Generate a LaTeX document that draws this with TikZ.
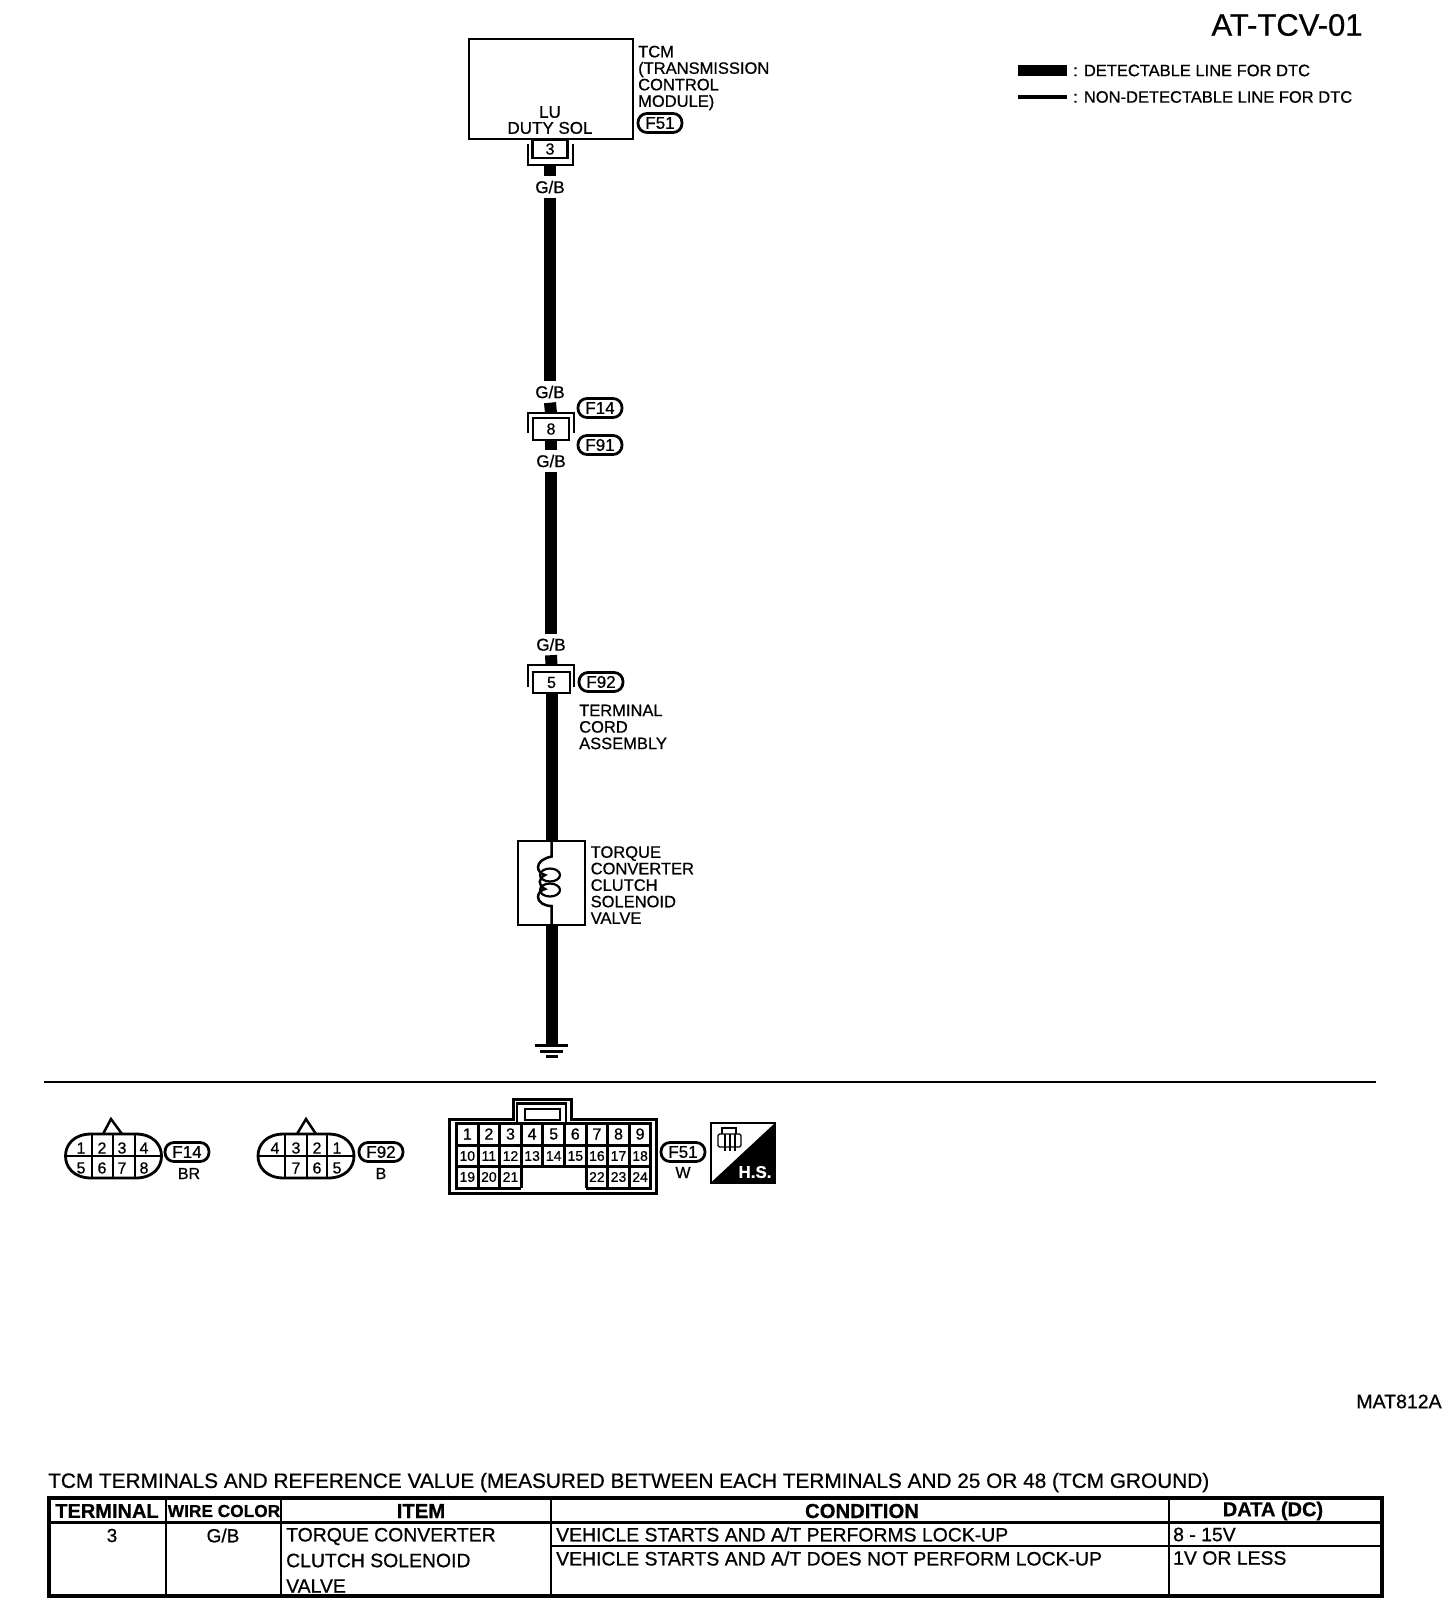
\documentclass[tikz,border=0pt]{standalone}
\usepackage{fontspec}
\setmainfont{Liberation Sans}[FakeBold=0.7]
\usetikzlibrary{calc}
\newcommand{\fnt}[1]{\fontsize{#1}{#1}\selectfont}

\begin{document}
\begin{tikzpicture}[x=1pt,y=-1pt,line cap=butt] %% pixel units
	\tikzstyle{wire}=[line width=12pt];
	\tikzstyle{outline}=[draw,line width=2.8pt,inner sep=0pt];
	\tikzstyle{pinbox}=[outline,minimum width=35pt,minimum height=20pt,font=\fnt{16}];
	\tikzstyle{tag}=[outline,rounded corners=9pt,minimum width=44pt,minimum height=19pt,font=\fnt{17}];
	\tikzstyle{wirelabel}=[inner sep=0pt,minimum height=21pt,font=\fnt{17}];
	\tikzstyle{lbl}=[inner sep=0pt,anchor=west,align=left,font=\fontsize{16.5}{16.5}\selectfont];
	\tikzstyle{cell}=[inner sep=0pt,font=\fnt{16}];
	\tikzstyle{smallcell}=[inner sep=0pt,font=\fnt{14}];
	\tikzstyle{head}=[inner sep=0pt,font=\bfseries\fnt{20.3}];
	\tikzstyle{body}=[inner sep=0pt,anchor=west,font=\fnt{19.4}];
	\tikzset{plugshell/.pic={
		\draw[line width=2.8pt] (-22,-22) -- (22,-22) .. controls (40,-22) and (48,-11) .. (48,0)
			.. controls (48,11) and (40,22) .. (22,22) -- (-22,22)
			.. controls (-40,22) and (-48,11) .. (-48,0) .. controls (-48,-11) and (-40,-22) .. (-22,-22) -- cycle;
		\draw[line width=2.8pt] (-48,0) -- (48,0);
	}};
	\useasboundingbox (0,0) rectangle (1456,1612);
	%% title and legend
	\node[inner sep=0pt,font=\fnt{31}] (sheet) at (1287,25) {AT-TCV-01};
	\coordinate (legA) at (1018,70.5);
	\coordinate (legB) at (1067,70.5);
	\coordinate (legC) at (1018,97);
	\coordinate (legD) at (1067,97);
	\draw[line width=11pt] (legA) -- (legB);
	\draw[line width=4.5pt] (legC) -- (legD);
	\node[inner sep=0pt,anchor=west,font=\fnt{16.5}] (legtxtA) at (1073,70.5) {: DETECTABLE LINE FOR DTC};
	\node[inner sep=0pt,anchor=west,font=\fnt{16.5}] (legtxtB) at (1073,97) {: NON-DETECTABLE LINE FOR DTC};
	%% TCM
	\node[outline,minimum width=164pt,minimum height=100pt] (tcm) at (551,89) {};
	\node[inner sep=0pt,align=center,font=\fontsize{17}{16}\selectfont] (lu) at (550,120) {LU\\DUTY SOL};
	\node[lbl] (tcmtxt) at (638,78) {TCM\\(TRANSMISSION\\CONTROL\\MODULE)};
	\node[tag] (fA) at (660,123) {F51};
	\node[pinbox,minimum height=18pt] (pinA) at (550,149) {3};
	\draw[line width=2.8pt] (528,144) -- (528,165) -- (573,165) -- (573,144);
	\coordinate (uA) at (550,165);
	\node[wirelabel] (gbA) at (550,187) {G/B};
	\draw[wire] (uA) -- (gbA.north);
	\node[wirelabel] (gbB) at (550,392) {G/B};
	\draw[wire] (gbA.south) -- (gbB.north);
	%% joint connector
	\node[pinbox,minimum width=36pt,minimum height=22pt] (pinB) at (551,429) {8};
	\coordinate (uB) at (551,413);
	\draw[wire] (gbB.south) -- (uB);
	\draw[line width=2.8pt] (528,433) -- (528,413) -- (574,413) -- (574,433);
	\node[tag] (fB) at (600,408) {F14};
	\node[tag] (fC) at (600,445) {F91};
	\node[wirelabel] (gbC) at (551,461) {G/B};
	\draw[wire] (pinB.south) -- (gbC.north);
	\node[wirelabel] (gbD) at (551,644.5) {G/B};
	\draw[wire] (gbC.south) -- (gbD.north);
	%% terminal cord
	\node[pinbox,minimum width=37pt,minimum height=21pt] (pinC) at (551.5,682.5) {5};
	\coordinate (uC) at (551.5,665);
	\draw[wire] (gbD.south) -- (uC);
	\draw[line width=2.8pt] (528,687) -- (528,665) -- (574,665) -- (574,687);
	\node[tag] (fD) at (601,682) {F92};
	\node[lbl] (cordtxt) at (579,727) {TERMINAL\\CORD\\ASSEMBLY};
	%% solenoid
	\node[outline,minimum width=67pt,minimum height=84pt] (sol) at (551.5,883) {};
	\draw[wire] (pinC.south) -- (sol.north);
	\node[lbl] (soltxt) at (590.5,885) {TORQUE\\CONVERTER\\CLUTCH\\SOLENOID\\VALVE};
	\draw[line width=2.5pt] (sol.north) -- ++(0,17) .. controls (544,858) and (538,862) .. (538,867)
		.. controls (538,871) and (541,874) .. (545,875) .. controls (538,878) and (538,886) .. (545,889)
		.. controls (541,890) and (538,893) .. (538,897) .. controls (538,902) and (544,906) .. (551.5,906) -- (sol.south);
	\draw[line width=2.2pt] (550,875) ellipse [x radius=10,y radius=6.5];
	\draw[line width=2.2pt] (550,890) ellipse [x radius=10,y radius=6.5];
	%% ground
	\coordinate (gnd) at (551.5,1044);
	\draw[wire] (sol.south) -- (gnd);
	\draw[line width=3pt] (535,1045) -- (568,1045);
	\draw[line width=3pt] (540,1051) -- (563,1051);
	\draw[line width=3pt] (546,1056.5) -- (558,1056.5);
	\draw[line width=2.5pt] (44,1082) -- (1376,1082);
	%% connector F14
	\pic at (113.5,1156) {plugshell};
	\draw[line width=2.5pt] (103,1134) -- (111,1119) -- (122,1134);
	\foreach \x in {92,113,135} \draw[line width=2.8pt] (\x,1134) -- (\x,1178);
	\foreach \n/\x/\y in {1/81/1148,2/102/1148,3/122/1148,4/144/1148,5/81/1168,6/102/1168,7/122/1168,8/144/1168}
		\node[cell] (e\n) at (\x,\y) {\n};
	\node[tag] (fE) at (187,1152) {F14};
	\node[cell] (colE) at (189,1173.5) {BR};
	%% connector F92
	\pic at (306,1156) {plugshell};
	\draw[line width=2.5pt] (297,1134) -- (306,1119) -- (316,1134);
	\foreach \x in {285,307,327} \draw[line width=2.8pt] (\x,1134) -- (\x,1178);
	\foreach \n/\x/\y in {4/275/1148,3/296/1148,2/317/1148,1/337/1148,7/296/1168,6/317/1168,5/337/1168}
		\node[cell] (g\n) at (\x,\y) {\n};
	\node[tag] (fF) at (381,1152) {F92};
	\node[cell] (colF) at (381,1173.5) {B};
	%% connector F51
	\draw[line width=3pt] (449,1193.5) -- (449,1119) -- (513,1119) -- (513,1099) -- (571,1099) -- (571,1119) -- (656,1119) -- (656,1193.5) -- cycle;
	\draw[line width=2.5pt] (517,1123) -- (517,1103.5) -- (566,1103.5) -- (566,1123);
	\draw[line width=2.5pt] (525,1109) rectangle (560,1120);
	\foreach \k in {0,...,9} {
		\pgfmathsetmacro{\gx}{456.5+21.6*\k}
		\draw[line width=3pt] (\gx,1123.5) -- (\gx,1166.5);
	}
	\foreach \k in {0,1,2,3,6,7,8,9} {
		\pgfmathsetmacro{\gx}{456.5+21.6*\k}
		\draw[line width=3pt] (\gx,1166.5) -- (\gx,1188);
	}
	\foreach \y in {1123.5,1145,1166.5} \draw[line width=3pt] (455,\y) -- (652.4,\y);
	\draw[line width=3pt] (455,1188) -- (521.3,1188);
	\draw[line width=3pt] (586.1,1188) -- (652.4,1188);
	\foreach \n [count=\i from 0] in {1,...,9} {
		\pgfmathsetmacro{\cx}{467.3+21.6*\i}
		\node[cell] (c\n) at (\cx,1134) {\n};
	}
	\foreach \n [count=\i from 0] in {10,...,18} {
		\pgfmathsetmacro{\cx}{467.3+21.6*\i}
		\node[smallcell] (c\n) at (\cx,1156) {\n};
	}
	\foreach \n/\i in {19/0,20/1,21/2,22/6,23/7,24/8} {
		\pgfmathsetmacro{\cx}{467.3+21.6*\i}
		\node[smallcell] (c\n) at (\cx,1177) {\n};
	}
	\node[tag] (fG) at (683,1152) {F51};
	\node[cell] (colG) at (683,1172.5) {W};
	%% harness symbol
	\draw[line width=2pt] (710.5,1123) rectangle (775,1183);
	\fill (775,1123) -- (775,1183) -- (710.5,1183) -- cycle;
	\node[inner sep=0pt,text=white,font=\bfseries\fnt{17}] (hs) at (755,1172) {H.S.};
	\draw[line width=1.3pt,rounded corners=1.5pt] (718,1134) rectangle (741,1147);
	\draw[line width=1.3pt] (722,1134) -- (722,1128) -- (736,1128) -- (736,1134);
	\foreach \x in {725,730,735} \draw[line width=1.3pt] (\x,1134) -- (\x,1151);
	%% figure number
	\node[inner sep=0pt,font=\fnt{19.5}] (figno) at (1399,1401.5) {MAT812A};
	%% table
	\node[inner sep=0pt,anchor=west,font=\fnt{20.8}] (tabtitle) at (48,1482.5) {TCM TERMINALS AND REFERENCE VALUE (MEASURED BETWEEN EACH TERMINALS AND 25 OR 48 (TCM GROUND)};
	\draw[line width=4pt] (49,1498) rectangle (1382,1596);
	\foreach \x in {166,281,551,1169} \draw[line width=2.8pt] (\x,1498) -- (\x,1596);
	\draw[line width=2.8pt] (49,1522.5) -- (1382,1522.5);
	\draw[line width=2.8pt] (551,1546) -- (1382,1546);
	\node[head,font=\bfseries\fnt{20}] (thA) at (107,1511) {TERMINAL};
	\node[head,font=\bfseries\fnt{17.3}] (thB) at (224,1511) {WIRE COLOR};
	\node[head] (thC) at (421,1511) {ITEM};
	\node[head] (thD) at (862,1511) {CONDITION};
	\node[head,font=\bfseries\fnt{20}] (thE) at (1273,1511) {DATA (DC)};
	\node[inner sep=0pt,font=\fnt{19}] (tdA) at (112,1535.5) {3};
	\node[inner sep=0pt,font=\fnt{19}] (tdB) at (223,1535.5) {G/B};
	\node[body] (tdC) at (286,1536.5) {TORQUE CONVERTER};
	\node[body] (tdD) at (286,1560.5) {CLUTCH SOLENOID};
	\node[body] (tdE) at (286,1586) {VALVE};
	\node[body] (tdF) at (556,1534.5) {VEHICLE STARTS AND A/T PERFORMS LOCK-UP};
	\node[body] (tdG) at (556,1558.5) {VEHICLE STARTS AND A/T DOES NOT PERFORM LOCK-UP};
	\node[body] (tdH) at (1173,1534.5) {8 - 15V};
	\node[body] (tdI) at (1173,1558) {1V OR LESS};
\end{tikzpicture}
\end{document}
